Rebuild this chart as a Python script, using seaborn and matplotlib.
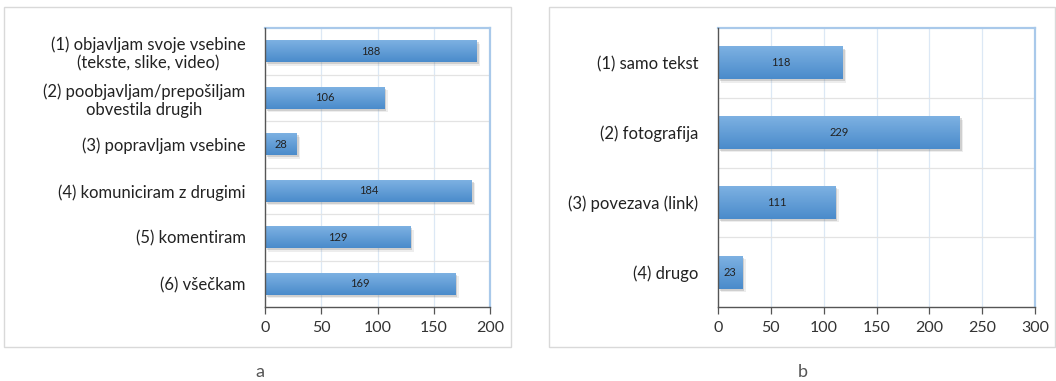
import numpy as np
import pandas as pd
import matplotlib
matplotlib.use("Agg")
import matplotlib.pyplot as plt
import matplotlib.patheffects as pe
from matplotlib.patches import Rectangle
from matplotlib.colors import LinearSegmentedColormap
import seaborn as sns

# Activities on social networks
activities = [
    "(1) objavljam svoje vsebine\n(tekste, slike, video)",
    "(2) poobjavljam/prepošiljam\nobvestila drugih",
    "(3) popravljam vsebine",
    "(4) komuniciram z drugimi",
    "(5) komentiram",
    "(6) všečkam",
]
activity_counts = [188, 106, 28, 184, 129, 169]
activity_ticks = [0, 50, 100, 150, 200]

# Types of published content
content_types = [
    "(1) samo tekst",
    "(2) fotografija",
    "(3) povezava (link)",
    "(4) drugo",
]
content_counts = [118, 229, 111, 23]
content_ticks = [0, 50, 100, 150, 200, 250, 300]

panel_labels = ["a", "b"]

sns.set_theme(style="white")
plt.rcParams["font.family"] = ["Lato", "DejaVu Sans"]

fig = plt.figure(figsize=(10.56, 3.81), dpi=100)
W, H = 1056, 381

def px_axes(left, top, right, bottom):
    return fig.add_axes([left / W, 1 - bottom / H, (right - left) / W, (bottom - top) / H])

# light panel frames
for (l, t, r, b) in [(4, 7, 511, 347), (549, 7, 1055, 347)]:
    fig.add_artist(Rectangle((l / W, 1 - b / H), (r - l) / W, (b - t) / H,
                             transform=fig.transFigure, fill=False,
                             edgecolor="#d9d9d9", linewidth=1.0))

ax_a = px_axes(265, 28, 490, 307)
ax_b = px_axes(718, 28, 1035, 307)

bar_cmap = LinearSegmentedColormap.from_list("bar", ["#7DB1E2", "#4A8BCB"])

def draw_panel(ax, cats, vals, ticks):
    df = pd.DataFrame({"cat": cats, "val": vals})
    sns.barplot(data=df, x="val", y="cat", orient="h", ax=ax, width=0.47,
                color="#5B9BD5", saturation=1, edgecolor="none")
    ax.set_xlim(ticks[0], ticks[-1])
    ax.set_ylim(len(cats) - 0.5, -0.5)
    ax.set_xticks(ticks)
    ax.set_xlabel("")
    ax.set_ylabel("")

    # grid: light blue verticals, light gray category separators
    for x in ticks[1:-1]:
        ax.axvline(x, color="#dce8f5", linewidth=0.9, zorder=0)
    for k in range(1, len(cats)):
        ax.axhline(k - 0.5, color="#e3e3e3", linewidth=0.9, zorder=0)

    for p, v in zip(ax.patches, vals):
        # soft drop shadow: two stacked translucent offsets
        p.set_path_effects([
            pe.SimplePatchShadow(offset=(2.5, -2.5), shadow_rgbFace="#888888", alpha=0.15),
            pe.SimplePatchShadow(offset=(1.5, -1.5), shadow_rgbFace="#777777", alpha=0.25),
            pe.Normal()])
        x0, y0 = p.get_x(), p.get_y()
        w, h = p.get_width(), p.get_height()
        grad = np.linspace(0, 1, 64).reshape(-1, 1)
        im = ax.imshow(grad, cmap=bar_cmap, aspect="auto",
                       extent=(x0, x0 + w, y0 + h, y0), origin="upper", zorder=p.get_zorder() + 0.1)
        im.set_clip_path(p)
        ax.text(x0 + w / 2, y0 + h / 2, str(v), ha="center", va="center",
                fontsize=8, color="#222222", zorder=5)
    ax.set_xlim(ticks[0], ticks[-1])
    ax.set_ylim(len(cats) - 0.5, -0.5)

    for side in ["top", "right"]:
        ax.spines[side].set_color("#a9c9ea")
        ax.spines[side].set_linewidth(1.6)
    for side in ["left", "bottom"]:
        ax.spines[side].set_color("#555555")
        ax.spines[side].set_linewidth(1.0)
        ax.spines[side].set_zorder(6)
    ax.tick_params(axis="x", bottom=True, length=5, width=0.9, color="#555555",
                   labelsize=11.5, labelcolor="#333333", pad=5)
    ax.tick_params(axis="y", left=False, labelsize=12, labelcolor="#222222", pad=8)
    for lab in ax.get_yticklabels():
        lab.set_multialignment("center")

draw_panel(ax_a, activities, activity_counts, activity_ticks)
draw_panel(ax_b, content_types, content_counts, content_ticks)

fig.text(260 / W, 1 - 372 / H, panel_labels[0], ha="center", va="center",
         fontsize=13, color="#555555")
fig.text(803 / W, 1 - 372 / H, panel_labels[1], ha="center", va="center",
         fontsize=13, color="#555555")

fig.savefig("out.png", dpi=100)
